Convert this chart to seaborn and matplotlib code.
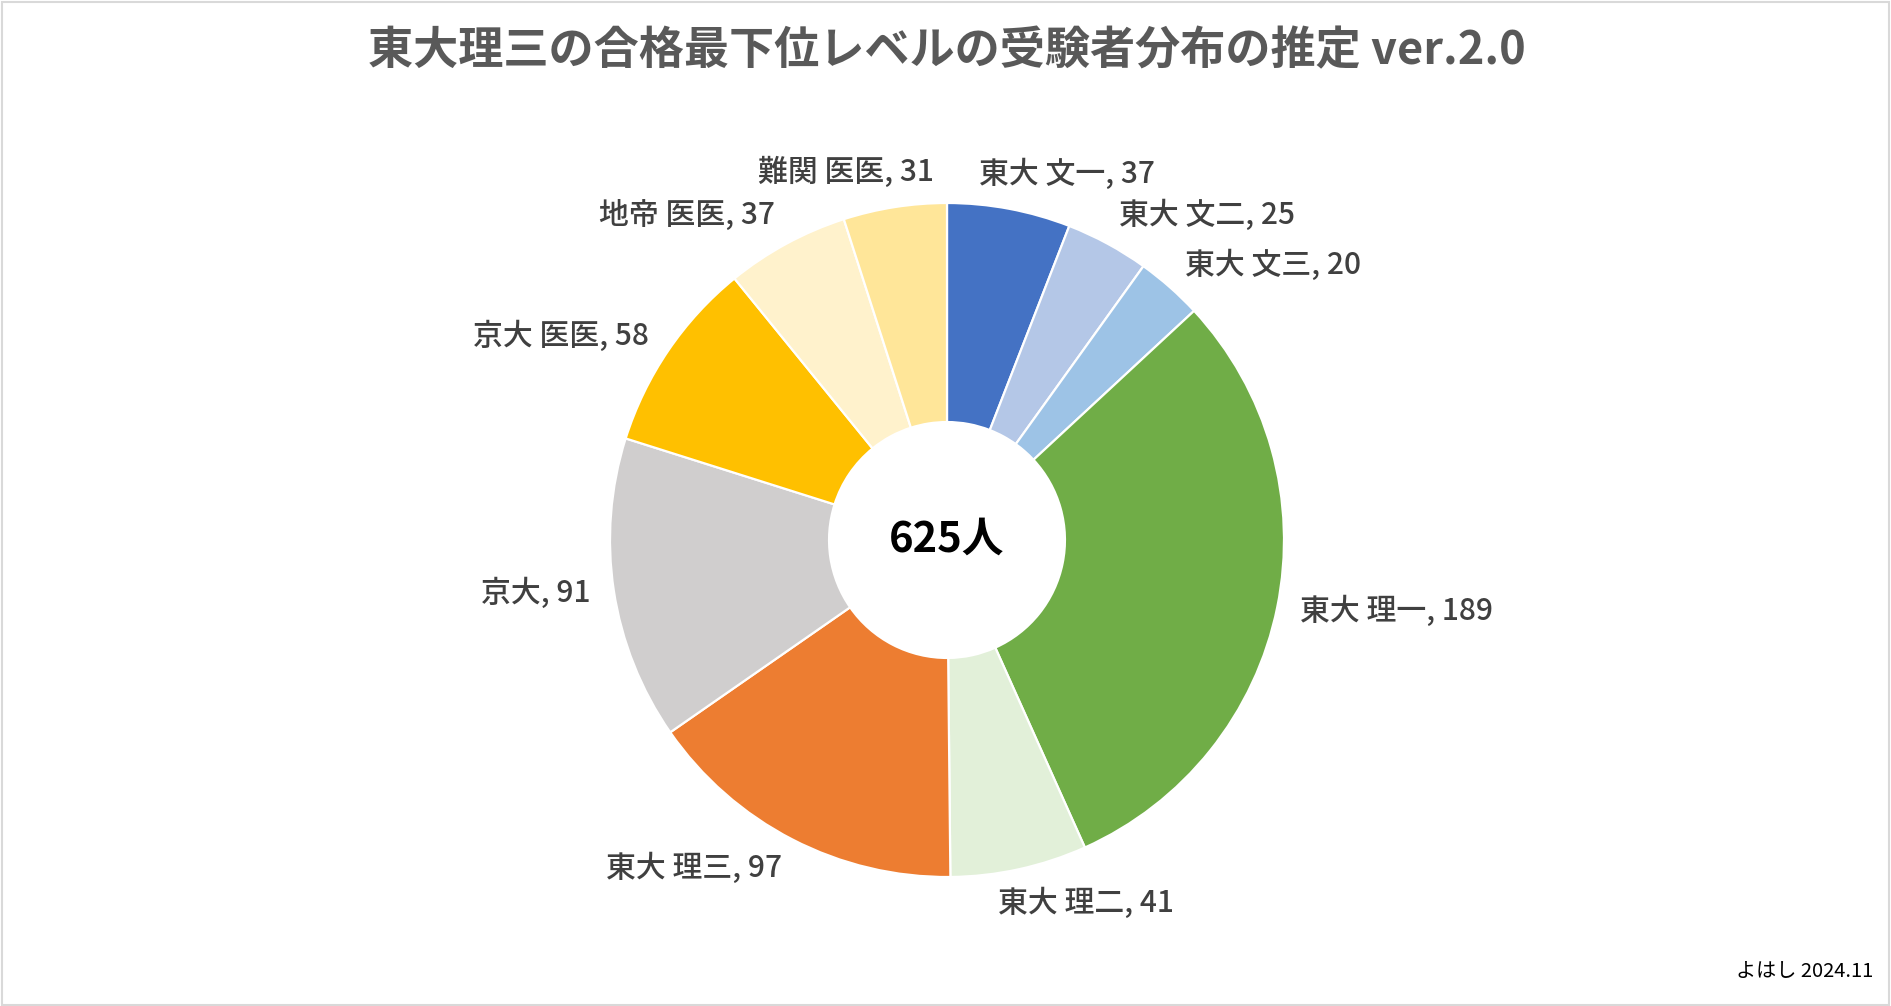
import numpy as np
import matplotlib
matplotlib.use('Agg')
import matplotlib.pyplot as plt
import seaborn as sns
from matplotlib.patches import Rectangle

# data
categories = ['東大 文一', '東大 文二', '東大 文三', '東大 理一', '東大 理二',
              '東大 理三', '京大', '京大 医医', '地帝 医医', '難関 医医']
counts = [37, 25, 20, 189, 41, 97, 91, 58, 37, 31]
total_shown = 625
colors = ['#4472C4', '#B4C7E7', '#9DC3E6', '#70AD47', '#E2F0D9',
          '#ED7D31', '#D0CECE', '#FFC000', '#FFF2CC', '#FFE699']

title = '東大理三の合格最下位レベルの受験者分布の推定 ver.2.0'
credit = 'よはし 2024.11'

sns.set_theme(style='white')
plt.rcParams['font.family'] = ['Noto Sans CJK JP', 'DejaVu Sans']

W, H = 1891, 1006
dpi = 100
fig = plt.figure(figsize=(W / dpi, H / dpi), dpi=dpi)
fig.patch.set_facecolor('white')

# donut centre and radius in pixels
cx, cy, R = 947, 540, 337
ax = fig.add_axes([0, 0, 1, 1])
ax.pie(counts, colors=colors, startangle=90, counterclock=False,
       radius=1.0, wedgeprops=dict(width=0.65, edgecolor='white', linewidth=1.6))
ax.set_aspect('auto')
ax.set_xlim(-cx / R, (W - cx) / R)
ax.set_ylim(-(H - cy) / R, cy / R)
ax.axis('off')

# centre total
ax.text(0, 0, f'{total_shown}人', ha='center', va='center', fontsize=30,
        fontweight='bold', color='black')

# data labels outside the ring, placed like Excel's "outside end"
fracs = np.array(counts) / np.sum(counts)
ends = np.cumsum(fracs) * 360
mids = ends - fracs * 180  # degrees clockwise from top
texts = []
for name, val in zip(categories, counts):
    t = ax.text(0, 0, f'{name}, {val}', ha='center', va='center',
                fontsize=21.5, fontweight='medium', color='#404040')
    texts.append(t)

fig.canvas.draw()
renderer = fig.canvas.get_renderer()
inv = ax.transData.inverted()
for t, m in zip(texts, mids):
    bb = t.get_window_extent(renderer).transformed(inv)
    theta = np.deg2rad(90 - m)
    c, s = np.cos(theta), np.sin(theta)
    ax_, ay_ = 1.07 * c, 1.06 * s
    px = ax_ + bb.width / 2 * np.clip(3.3 * c, -1, 1)
    py = ay_ + bb.height / 2 * s ** 3
    t.set_position((px, py))

fig.text(cx / W, 1 - 51 / H, title, ha='center', va='center', fontsize=32.5,
         fontweight='bold', color='#595959')
fig.text(1873 / W, 1 - 971 / H, credit, ha='right', va='center', fontsize=14.5,
         color='black')

fig.patches.append(Rectangle((0.001, 0.001), 0.998, 0.997, transform=fig.transFigure,
                             fill=False, edgecolor='#D9D9D9', linewidth=1.5))

fig.savefig('out.png', dpi=dpi)
